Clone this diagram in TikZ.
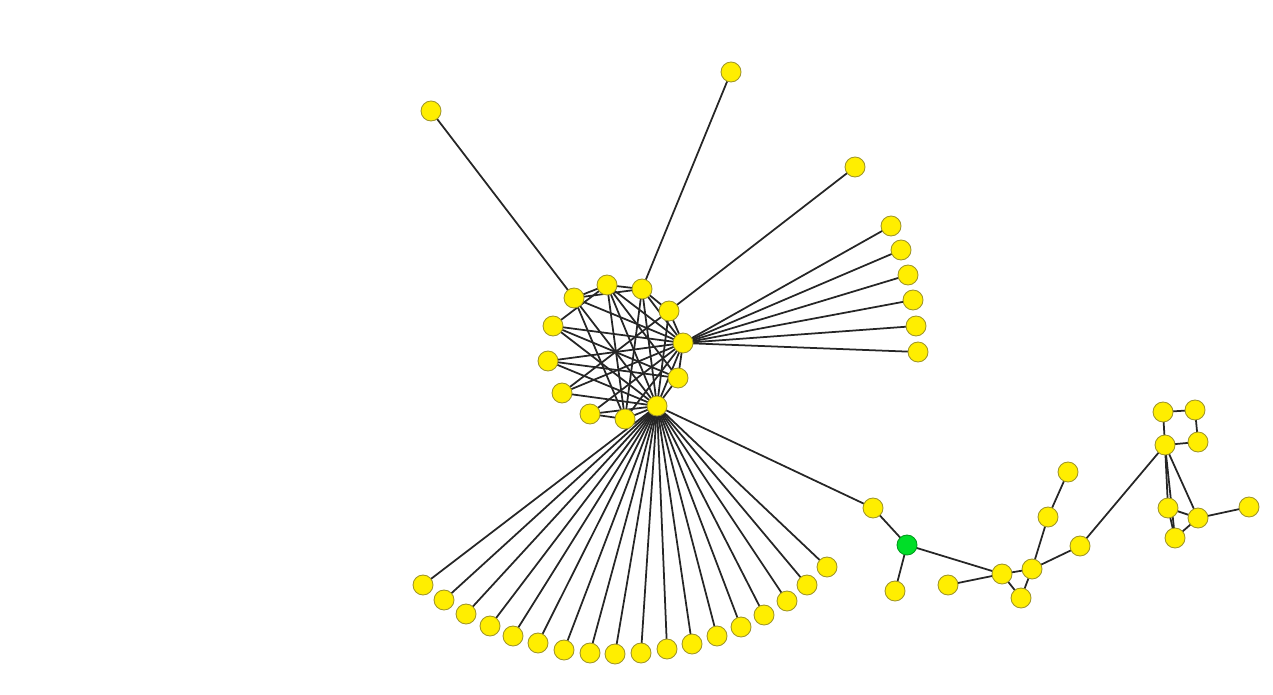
\documentclass[tikz,border=0pt]{standalone}
\usepackage{tikz}
\usetikzlibrary{positioning}
\definecolor{nodeyellow}{RGB}{255,238,0}
\definecolor{nodegreen}{RGB}{0,222,40}
\definecolor{rimgray}{RGB}{160,150,40}
\begin{document}
\begin{tikzpicture}[
    x=0.02cm, y=-0.02cm,
    vertex/.style={circle, fill=nodeyellow, draw=rimgray, line width=0.5pt,
      minimum size=0.4cm, inner sep=0pt},
    seed/.style={vertex, fill=nodegreen, draw=nodegreen!70!black},
    link/.style={draw=black!85, line width=1pt},
  ]
    \useasboundingbox (0,0) rectangle (1273,695);
    % ring of the dense cluster
    \coordinate (cA) at (574,298);
    \coordinate (cB) at (607,285);
    \coordinate (cC) at (642,289);
    \coordinate (cD) at (669,311);
    \coordinate (cE) at (683,343);
    \coordinate (cF) at (678,378);
    \coordinate (cG) at (657,406);
    \coordinate (cH) at (625,419);
    \coordinate (cI) at (590,414);
    \coordinate (cJ) at (562,393);
    \coordinate (cK) at (548,361);
    \coordinate (cL) at (553,326);
    % outer leaves
    \coordinate (t1) at (431,111);
    \coordinate (t2) at (731,72);
    \coordinate (t3) at (855,167);
    % right chain
    \coordinate (p1) at (873,508);
    \coordinate (seedpos) at (907,545);
    \coordinate (p2) at (895,591);
    \coordinate (p3) at (948,585);
    \coordinate (p4) at (1002,574);
    \coordinate (p5) at (1021,598);
    \coordinate (p6) at (1032,569);
    \coordinate (p7) at (1048,517);
    \coordinate (p8) at (1068,472);
    \coordinate (p9) at (1080,546);
    \coordinate (q1) at (1165,445);
    \coordinate (q2) at (1163,412);
    \coordinate (q3) at (1195,410);
    \coordinate (q4) at (1198,442);
    \coordinate (q5) at (1168,508);
    \coordinate (q6) at (1175,538);
    \coordinate (q7) at (1198,518);
    \coordinate (q8) at (1249,507);

    % edges of the cluster
    \foreach \a in {cA,cB,cC,cD,cF,cG,cH,cI,cJ,cK,cL}
      \draw[link] (\a) -- (cE);
    \foreach \a in {cA,cB,cC,cD,cF,cH,cI,cJ,cK,cL}
      \draw[link] (\a) -- (cG);
    \draw[link] (cA) -- (cB) -- (cC) -- (cD);
    \draw[link] (cA) -- (cC);
    \draw[link] (cL) -- (cB);
    \draw[link] (cA) -- (cH);
    \draw[link] (cB) -- (cH);
    \draw[link] (cI) -- (cH);
    \draw[link] (cL) -- (cF);
    \draw[link] (cK) -- (cF);
    \draw[link] (cB) -- (cF);
    \draw[link] (cJ) -- (cD);
    \draw[link] (cC) -- (cH);
    \draw[link] (t1) -- (cA);
    \draw[link] (t2) -- (cC);
    \draw[link] (t3) -- (cD);

    % right fan
    \foreach \x/\y [count=\i] in {891/226,901/250,908/275,913/300,916/326,918/352} {
      \coordinate (r\i) at (\x,\y);
      \draw[link] (cE) -- (r\i);
    }
    % bottom fan
    \foreach \x/\y [count=\i] in {423/585,444/600,466/614,490/626,513/636,538/643,
        564/650,590/653,615/654,641/653,667/649,692/644,717/636,741/627,764/615,
        787/601,807/585,827/567} {
      \coordinate (b\i) at (\x,\y);
      \draw[link] (cG) -- (b\i);
    }

    % chain to the right
    \draw[link] (cG) -- (p1) -- (seedpos) -- (p2);
    \draw[link] (seedpos) -- (p4);
    \draw[link] (p3) -- (p4) -- (p6) -- (p5) -- (p4);
    \draw[link] (p6) -- (p7) -- (p8);
    \draw[link] (p6) -- (p9) -- (q1);
    \draw[link] (q1) -- (q2) -- (q3) -- (q4) -- (q1);
    \draw[link] (q1) -- (q5) -- (q6) -- (q7) -- (q1);
    \draw[link] (q1) -- (q6);
    \draw[link] (q5) -- (q7) -- (q8);

    % the vertices
    \foreach \v in {cA,cB,cC,cD,cE,cF,cG,cH,cI,cJ,cK,cL,t1,t2,t3,
        p1,p2,p3,p4,p5,p6,p7,p8,p9,q1,q2,q3,q4,q5,q6,q7,q8,r1,r2,r3,r4,r5,r6}
      \node[vertex] (n\v) at (\v) {};
    \foreach \i in {1,...,18}
      \node[vertex] (nb\i) at (b\i) {};
    \node[seed] (nseed) at (seedpos) {};
\end{tikzpicture}
\end{document}
